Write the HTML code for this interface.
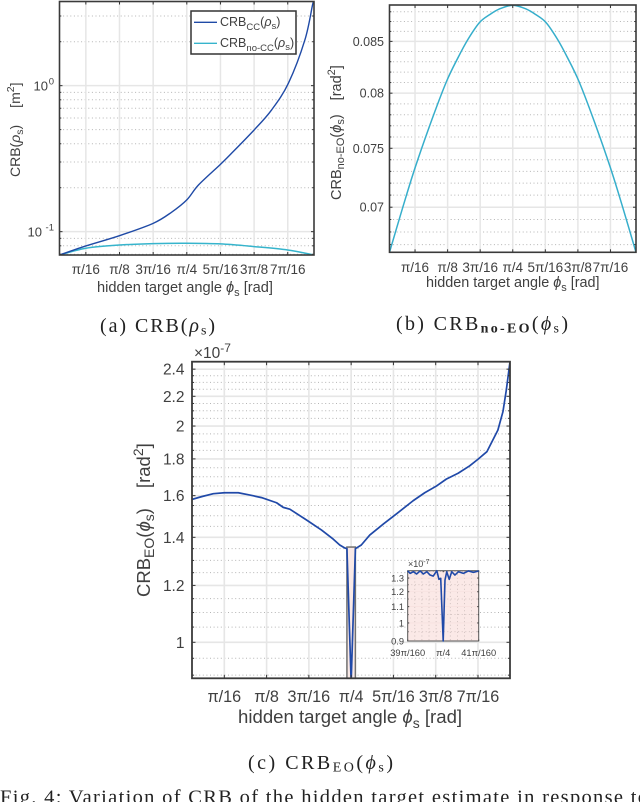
<!DOCTYPE html>
<html lang="en">
<head>
<meta charset="utf-8">
<title>CRB of the hidden target estimate</title>
<style>
html,body{margin:0;padding:0;background:#fff;width:640px;height:802px;overflow:hidden}
svg{display:block;font-family:"Liberation Sans",sans-serif}
.serif{font-family:"Liberation Serif",serif;fill:#222}
.t{fill:#404040}
</style>
</head>
<body>
<svg id="figure" xmlns="http://www.w3.org/2000/svg" width="640" height="802" viewBox="0 0 640 802">
  <g id="chart-a"></g>
  <g id="chart-b"></g>
  <g id="chart-c"></g>
  <g id="chart-inset"></g>

  <g>
    <rect x="191" y="11" width="105" height="43" fill="#fff" stroke="#333" stroke-width="1.5"/>
    <line x1="194" x2="217" y1="22.3" y2="22.3" stroke="#1f4aa6" stroke-width="1.4"/>
    <line x1="194" x2="217" y1="43.3" y2="43.3" stroke="#36b4cc" stroke-width="1.4"/>
    <text class="t" x="220" y="26" font-size="12.5">CRB<tspan dy="4" font-size="9.5">CC</tspan><tspan dy="-4">(</tspan><tspan font-style="italic">ρ</tspan><tspan dy="3" font-size="9.5">s</tspan><tspan dy="-3">)</tspan></text>
    <text class="t" x="220" y="47" font-size="12.5">CRB<tspan dy="4" font-size="9.5">no-CC</tspan><tspan dy="-4">(</tspan><tspan font-style="italic">ρ</tspan><tspan dy="3" font-size="9.5">s</tspan><tspan dy="-3">)</tspan></text>
  </g>

  <text class="t" transform="translate(20,177) rotate(-90)" font-size="14">CRB(<tspan font-style="italic">ρ</tspan><tspan dy="3" font-size="10.5">s</tspan><tspan dy="-3">)</tspan><tspan dx="17">[m</tspan><tspan dy="-6" font-size="10.5">2</tspan><tspan dy="6">]</tspan></text>
  <text class="t" x="97" y="292" font-size="14.6">hidden target angle <tspan font-style="italic">ϕ</tspan><tspan dy="4" font-size="11">s</tspan><tspan dy="-4"> [rad]</tspan></text>
  <text class="serif" x="100" y="332" font-size="20" textLength="115">(a) CRB(<tspan font-style="italic">ρ</tspan><tspan dy="2.5" font-size="14">s</tspan><tspan dy="-2.5">)</tspan></text>

  <text class="t" transform="translate(341,200) rotate(-90)" font-size="14.5">CRB<tspan dy="3" font-size="11">no-EO</tspan><tspan dy="-3">(</tspan><tspan font-style="italic">ϕ</tspan><tspan dy="3" font-size="11">s</tspan><tspan dy="-3">)</tspan><tspan dx="14">[rad</tspan><tspan dy="-6" font-size="11">2</tspan><tspan dy="6">]</tspan></text>
  <text class="t" x="426" y="287" font-size="14.4">hidden target angle <tspan font-style="italic">ϕ</tspan><tspan dy="4" font-size="11">s</tspan><tspan dy="-4"> [rad]</tspan></text>
  <text class="serif" x="396" y="330" font-size="20" textLength="172">(b) CRB<tspan dy="2.5" font-size="14" font-weight="bold">no-EO</tspan><tspan dy="-2.5">(</tspan><tspan font-style="italic">ϕ</tspan><tspan dy="2.5" font-size="14">s</tspan><tspan dy="-2.5">)</tspan></text>

  <text class="t" transform="translate(150,597) rotate(-90)" font-size="18.5">CRB<tspan dy="4" font-size="14">EO</tspan><tspan dy="-4">(</tspan><tspan font-style="italic">ϕ</tspan><tspan dy="4" font-size="14">s</tspan><tspan dy="-4">)</tspan><tspan dx="20">[rad</tspan><tspan dy="-7" font-size="14">2</tspan><tspan dy="7">]</tspan></text>
  <text class="t" x="238" y="723" font-size="18.6">hidden target angle <tspan font-style="italic">ϕ</tspan><tspan dy="5" font-size="14">s</tspan><tspan dy="-5"> [rad]</tspan></text>
  <text class="t" x="194" y="358" font-size="15.5">×10<tspan dy="-6" font-size="12">-7</tspan></text>
  <text class="serif" x="248" y="769" font-size="20" textLength="145">(c) CRB<tspan dy="2.5" font-size="14">EO</tspan><tspan dy="-2.5">(</tspan><tspan font-style="italic">ϕ</tspan><tspan dy="2.5" font-size="14">s</tspan><tspan dy="-2.5">)</tspan></text>
  <text class="t" x="408" y="567" font-size="9">×10<tspan dy="-3" font-size="7">-7</tspan></text>

  <text class="serif" x="0" y="803.5" font-size="20.5" textLength="648" lengthAdjust="spacing">Fig. 4: Variation of CRB of the hidden target estimate in response to</text>
</svg>

<script>
// Shared x axis: hidden target angle, in units of pi/16 rad
const piTickValues = [1, 2, 3, 4, 5, 6, 7];
const piTickLabels = ['π/16', 'π/8', '3π/16', 'π/4', '5π/16', '3π/8', '7π/16'];

// Chart (a) CRB(rho_s)
const phiCC = [0.22, 1, 2, 3, 3.55, 4, 4.35, 5, 5.28, 6, 6.52, 7.02, 7.51, 7.74, 7.78];
const crbCC = [0.0692, 0.0798, 0.0939, 0.114, 0.136, 0.165, 0.209, 0.289, 0.335, 0.497, 0.682, 1.04, 2.06, 3.6, 3.77];
const phiNoCC = [0.22, 1, 2, 3, 4, 5, 6, 7, 7.78];
const crbNoCC = [0.0692, 0.077, 0.081, 0.0828, 0.0833, 0.0824, 0.079, 0.0749, 0.0692];
const aTickValues = [0.1, 1];
const aTickLabels = ['10', '10'];
const aTickExponents = ['-1', '0'];
const aMinorValues = [0.07, 0.08, 0.09, 0.2, 0.3, 0.4, 0.5, 0.6, 0.7, 0.8, 0.9, 2, 3];

// Chart (b) CRB_no-EO(phi_s)
const phiNoEO = [0.216, 0.625, 1, 1.51, 1.966, 2.32, 2.625, 2.98, 3.29, 3.6, 4, 4.4, 4.71, 5.02, 5.375, 5.68, 6.034, 6.49, 7, 7.375, 7.784];
const crbNoEO = [0.0664, 0.07, 0.0733, 0.0775, 0.0811, 0.0834, 0.0852, 0.0869, 0.0877, 0.0883, 0.08868, 0.0883, 0.0877, 0.0869, 0.0852, 0.0834, 0.0811, 0.0775, 0.0733, 0.07, 0.0664];
const bTickValues = [0.07, 0.075, 0.08, 0.085];
const bTickLabels = ['0.07', '0.075', '0.08', '0.085'];
const bMinorValues = [0.067, 0.068, 0.069, 0.071, 0.072, 0.073, 0.074, 0.076, 0.077, 0.078, 0.079, 0.081, 0.082, 0.083, 0.084, 0.086, 0.087, 0.088];

// Chart (c) CRB_EO(phi_s)
const phiEO = [0.236, 0.465, 0.74, 1, 1.33, 1.606, 1.88, 2.236, 2.394, 2.55, 2.945, 3.3, 3.575, 3.73, 3.85, 3.9, 4, 4.1, 4.24, 4.44, 4.756, 5.07, 5.465, 5.74, 6.016, 6.25, 6.53, 6.8, 7, 7.21, 7.47, 7.59, 7.67, 7.757];
const crbEO = [1.581, 1.595, 1.61, 1.615, 1.615, 1.603, 1.59, 1.564, 1.541, 1.532, 1.48, 1.433, 1.392, 1.366, 1.353, 1.35, 0.88, 1.35, 1.366, 1.41, 1.46, 1.509, 1.574, 1.615, 1.65, 1.687, 1.719, 1.76, 1.798, 1.842, 1.974, 2.094, 2.245, 2.458];
const cTickValues = [1, 1.2, 1.4, 1.6, 1.8, 2, 2.2, 2.4];
const cTickLabels = ['1', '1.2', '1.4', '1.6', '1.8', '2', '2.2', '2.4'];
const cMinorValues = [0.9, 0.95, 1.05, 1.1, 1.15, 1.25, 1.3, 1.35, 1.45, 1.5, 1.55, 1.65, 1.7, 1.75, 1.85, 1.9, 1.95, 2.05, 2.1, 2.15, 2.25, 2.3, 2.35];
const zoomPhi = [3.9, 4.1];
const zoomCrb = [0.891, 1.357];

// Inset of chart (c)
const phiInset = [3.9, 3.907, 3.916, 3.925, 3.935, 3.944, 3.954, 3.963, 3.972, 3.982, 3.988, 3.993, 4, 4.005, 4.01, 4.017, 4.024, 4.033, 4.043, 4.057, 4.071, 4.085, 4.1];
const crbInset = [1.355, 1.336, 1.349, 1.331, 1.355, 1.331, 1.349, 1.323, 1.315, 1.357, 1.29, 1.298, 0.9, 1.285, 1.349, 1.29, 1.349, 1.323, 1.349, 1.336, 1.355, 1.344, 1.355];
const insetTickValues = [0.9, 1, 1.1, 1.2, 1.3];
const insetTickLabels = ['0.9', '1', '1.1', '1.2', '1.3'];
const insetXTickValues = [3.9, 4, 4.1];
const insetXTickLabels = ['39π/160', 'π/4', '41π/160'];
const insetMinorY = [0.95, 1.05, 1.15, 1.25, 1.35];
const insetMinorX = [3.92, 3.94, 3.96, 3.98, 4.02, 4.04, 4.06, 4.08];

const NS = 'http://www.w3.org/2000/svg';

function add(parent, tag, name, props, text) {
  const el = document.createElementNS(NS, tag);
  
  
  for (const k in props) el.setAttribute(k, props[k]);
  if (text !== undefined) el.textContent = text;
  parent.appendChild(el);
  return el;
}

function makeAxes(box, xDom, yDom) {
  const sx = v => box.x0 + (v - xDom[0]) / (xDom[1] - xDom[0]) * (box.x1 - box.x0);
  const ly0 = Math.log(yDom[0]), ly1 = Math.log(yDom[1]);
  const sy = v => box.y1 - (Math.log(v) - ly0) / (ly1 - ly0) * (box.y1 - box.y0);
  return { sx, sy };
}

function linePath(xs, ys, ax) {
  return xs.map((x, i) => (i ? 'L' : 'M') + ax.sx(x).toFixed(2) + ' ' + ax.sy(ys[i]).toFixed(2)).join(' ');
}

function smoothPath(xs, ys, ax) {
  const p = xs.map((x, i) => [ax.sx(x), ax.sy(ys[i])]);
  let d = 'M' + p[0][0].toFixed(2) + ' ' + p[0][1].toFixed(2);
  for (let i = 0; i < p.length - 1; i++) {
    const a = p[Math.max(i - 1, 0)], b = p[i], c = p[i + 1], e = p[Math.min(i + 2, p.length - 1)];
    d += ' C' + (b[0] + (c[0] - a[0]) / 6).toFixed(2) + ' ' + (b[1] + (c[1] - a[1]) / 6).toFixed(2) +
         ' ' + (c[0] - (e[0] - b[0]) / 6).toFixed(2) + ' ' + (c[1] - (e[1] - b[1]) / 6).toFixed(2) +
         ' ' + c[0].toFixed(2) + ' ' + c[1].toFixed(2);
  }
  return d;
}

function drawFrame(g, box, ax, opt) {
  add(g, 'rect', 'plot-area', { x: box.x0, y: box.y0, width: box.x1 - box.x0, height: box.y1 - box.y0, fill: opt.bg || '#fff' });
  opt.minorY.forEach(v => {
    add(g, 'line', 'minor-grid-y', { x1: box.x0, x2: box.x1, y1: ax.sy(v), y2: ax.sy(v), stroke: opt.dotColor || '#b5b5b5', 'stroke-width': opt.dotWidth || 1, 'stroke-dasharray': '1 2.6' });
  });
  (opt.minorX || []).forEach(v => {
    add(g, 'line', 'minor-grid-x', { y1: box.y0, y2: box.y1, x1: ax.sx(v), x2: ax.sx(v), stroke: opt.dotColor || '#b5b5b5', 'stroke-width': opt.dotWidth || 1, 'stroke-dasharray': '1 2.6' });
  });
  opt.yTicks.forEach(v => {
    add(g, 'line', 'major-grid-y', { x1: box.x0, x2: box.x1, y1: ax.sy(v), y2: ax.sy(v), stroke: opt.gridColor || '#e6e6e6', 'stroke-width': opt.gridWidth });
  });
  opt.xTicks.forEach(v => {
    add(g, 'line', 'major-grid-x', { y1: box.y0, y2: box.y1, x1: ax.sx(v), x2: ax.sx(v), stroke: opt.gridColor || '#e6e6e6', 'stroke-width': opt.gridWidth });
  });
}

function drawBorder(g, box, ax, opt) {
  const tl = opt.tick;
  opt.xTicks.forEach(v => {
    const x = ax.sx(v);
    add(g, 'line', 'x-tick', { x1: x, x2: x, y1: box.y1, y2: box.y1 - tl, stroke: '#333', 'stroke-width': 1 });
    add(g, 'line', 'x-tick-top', { x1: x, x2: x, y1: box.y0, y2: box.y0 + tl, stroke: '#333', 'stroke-width': 1 });
  });
  opt.yTicks.concat(opt.minorY).forEach((v, i) => {
    const y = ax.sy(v);
    const len = i < opt.yTicks.length ? tl : tl * 0.6;
    add(g, 'line', 'y-tick', { x1: box.x0, x2: box.x0 + len, y1: y, y2: y, stroke: '#333', 'stroke-width': 1 });
    add(g, 'line', 'y-tick-right', { x1: box.x1, x2: box.x1 - len, y1: y, y2: y, stroke: '#333', 'stroke-width': 1 });
  });
  add(g, 'rect', 'axes-box', { x: box.x0, y: box.y0, width: box.x1 - box.x0, height: box.y1 - box.y0, fill: 'none', stroke: opt.boxColor || '#3a3a3a', 'stroke-width': opt.boxWidth });
}

function drawLabels(g, box, ax, opt) {
  opt.xTicks.forEach((v, i) => {
    add(g, 'text', 'x-tick-label', { class: 't', x: ax.sx(v), y: opt.xLabelY, 'text-anchor': 'middle', 'font-size': opt.fsX }, opt.xLabels[i]);
  });
  opt.yTicks.forEach((v, i) => {
    add(g, 'text', 'y-tick-label', { class: 't', x: opt.yLabelX[i] === undefined ? opt.yLabelX : opt.yLabelX[i], y: ax.sy(v) + opt.fs * 0.36, 'text-anchor': 'end', 'font-size': opt.fs }, opt.yLabels[i]);
  });
}

function clipFor(g, id, box) {
  const cp = add(g, 'clipPath', id + '-clip', { id: id });
  add(cp, 'rect', id + '-clip-rect', { x: box.x0, y: box.y0, width: box.x1 - box.x0, height: box.y1 - box.y0 });
  return 'url(#' + id + ')';
}

/* ---------- chart a ---------- */
(function () {
  const g = document.getElementById('chart-a');
  const box = { x0: 59.5, x1: 314, y0: 1.5, y1: 255 };
  const ax = makeAxes(box, [0.217, 7.78], [0.0692, 3.77]);
  const opt = { xTicks: piTickValues, yTicks: aTickValues, minorY: aMinorValues, gridWidth: 1.5, boxWidth: 1.6, tick: 3, xLabels: piTickLabels, yLabels: aTickLabels, xLabelY: 274, yLabelX: [42, 48], fs: 13, fsX: 13.5 };
  drawFrame(g, box, ax, opt);
  const clip = clipFor(g, 'clip-a', box);
  add(g, 'path', 'line-crb-no-cc', { d: smoothPath(phiNoCC, crbNoCC, ax), fill: 'none', stroke: '#36b4cc', 'stroke-width': 1.5, 'clip-path': clip });
  add(g, 'path', 'line-crb-cc', { d: smoothPath(phiCC, crbCC, ax), fill: 'none', stroke: '#1f4aa6', 'stroke-width': 1.4, 'clip-path': clip });
  drawBorder(g, box, ax, opt);
  drawLabels(g, box, ax, opt);
  aTickValues.forEach((v, i) => {
    add(g, 'text', 'y-tick-exponent', { class: 't', x: 54, y: ax.sy(v) - 1, 'text-anchor': 'end', 'font-size': 9.5 }, aTickExponents[i]);
  });
})();

/* ---------- chart b ---------- */
(function () {
  const g = document.getElementById('chart-b');
  const box = { x0: 389.5, x1: 636, y0: 5, y1: 252.3 };
  const ax = makeAxes(box, [0.216, 7.784], [0.0664, 0.0887]);
  const opt = { xTicks: piTickValues, yTicks: bTickValues, minorY: bMinorValues, gridWidth: 1.5, boxWidth: 1.6, tick: 3, xLabels: piTickLabels, yLabels: bTickLabels, xLabelY: 272, yLabelX: 384, fs: 12.5, fsX: 13.5 };
  drawFrame(g, box, ax, opt);
  const clip = clipFor(g, 'clip-b', box);
  add(g, 'path', 'line-crb-no-eo', { d: smoothPath(phiNoEO, crbNoEO, ax), fill: 'none', stroke: '#36aecb', 'stroke-width': 1.5, 'clip-path': clip });
  drawBorder(g, box, ax, opt);
  drawLabels(g, box, ax, opt);
})();

/* ---------- chart c ---------- */
(function () {
  const g = document.getElementById('chart-c');
  const box = { x0: 192, x1: 510, y0: 361.7, y1: 678.3 };
  const ax = makeAxes(box, [0.236, 7.757], [0.891, 2.458]);
  const opt = { xTicks: piTickValues, yTicks: cTickValues, minorY: cMinorValues, gridWidth: 1.6, boxWidth: 1.8, tick: 3.5, xLabels: piTickLabels, yLabels: cTickLabels, xLabelY: 702, yLabelX: 184.5, fs: 15.5, fsX: 16.2 };
  drawFrame(g, box, ax, opt);
  const clip = clipFor(g, 'clip-c', box);
  const zx0 = ax.sx(zoomPhi[0]), zx1 = ax.sx(zoomPhi[1]), zy0 = ax.sy(zoomCrb[1]), zy1 = ax.sy(zoomCrb[0]);
  add(g, 'rect', 'zoom-region', { x: zx0, y: zy0, width: zx1 - zx0, height: zy1 - zy0, fill: '#f9e9e6', stroke: '#707070', 'stroke-width': 1.5 });
  add(g, 'path', 'line-crb-eo', { d: linePath(phiEO, crbEO, ax), fill: 'none', stroke: '#2049a8', 'stroke-width': 1.7, 'stroke-linejoin': 'round', 'clip-path': clip });
  drawBorder(g, box, ax, opt);
  drawLabels(g, box, ax, opt);
})();

/* ---------- inset ---------- */
(function () {
  const g = document.getElementById('chart-inset');
  const box = { x0: 407.7, x1: 478.7, y0: 570.7, y1: 641 };
  const ax = makeAxes(box, [3.9, 4.1], [0.9, 1.357]);
  const opt = { xTicks: insetXTickValues, yTicks: insetTickValues, minorY: insetMinorY, minorX: insetMinorX, bg: '#fbe9e7', gridColor: '#f5dedc', dotColor: '#c9b9b7', dotWidth: 0.8, gridWidth: 0.6, boxWidth: 1, boxColor: '#555', tick: 1.5, xLabels: insetXTickLabels, yLabels: insetTickLabels, xLabelY: 656, yLabelX: 404, fs: 9.3, fsX: 9.3 };
  drawFrame(g, box, ax, opt);
  const clip = clipFor(g, 'clip-inset', { x0: 407, x1: 479.5, y0: 569.5, y1: 642 });
  drawBorder(g, box, ax, opt);
  add(g, 'path', 'line-crb-eo-inset', { d: linePath(phiInset, crbInset, ax), fill: 'none', stroke: '#2049a8', 'stroke-width': 1.6, 'stroke-linejoin': 'round', 'clip-path': clip });
  drawLabels(g, box, ax, opt);
})();
</script>
</body>
</html>
